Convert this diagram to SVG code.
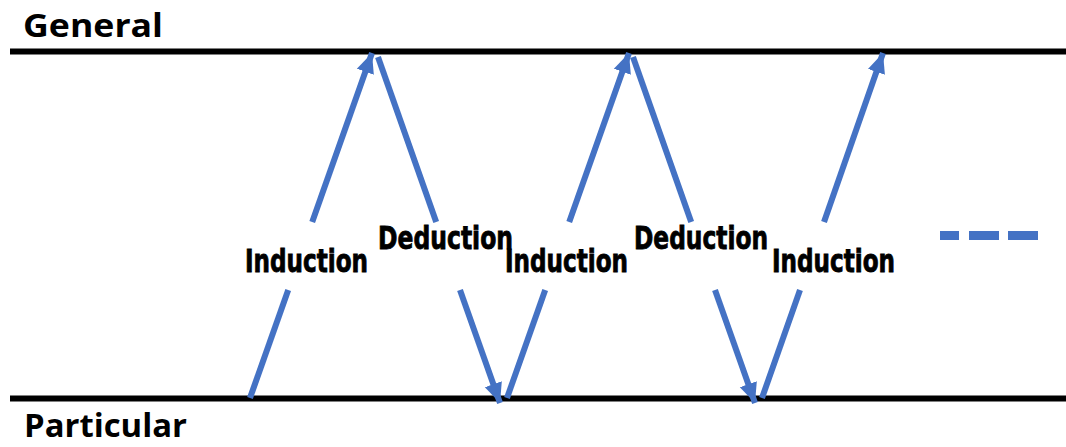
<svg xmlns="http://www.w3.org/2000/svg" width="1066" height="447" viewBox="0 0 1066 447">
<style>
.axis{stroke:#000;stroke-width:6;fill:none}
.arr{stroke:#4472C4;stroke-width:6;fill:none}
.lbl{font-family:"Liberation Sans Narrow","DejaVu Sans Condensed","Liberation Sans",sans-serif;font-weight:bold;font-size:32px;fill:#000;stroke:#000;stroke-width:0.8}
.ttl{font-family:"Open Sans","Noto Sans","Liberation Sans",sans-serif;font-weight:bold;font-size:33px;fill:#000}
.dash{fill:#4472C4}
</style>
<defs>
<marker id="ah" markerUnits="userSpaceOnUse" markerWidth="22" markerHeight="22" viewBox="0 0 22 22" refX="20" refY="11" orient="auto">
<path d="M0,2 L20,11 L0,20 Z" fill="#4472C4"/>
</marker>
</defs>
<g id="general">
<line class="axis" x1="10" y1="51.5" x2="1066" y2="51.5"/>
<text class="ttl" x="23" y="37" textLength="140" lengthAdjust="spacingAndGlyphs">General</text>
</g>
<g id="particular">
<line class="axis" x1="10" y1="398.5" x2="1066" y2="398.5"/>
<text class="ttl" x="24" y="437" font-size="31" textLength="163" lengthAdjust="spacingAndGlyphs">Particular</text>
</g>
<g id="connectors">
<line class="arr" x1="250" y1="398" x2="288.2" y2="290"/>
<line class="arr" x1="312.2" y1="222" x2="372" y2="53" marker-end="url(#ah)"/>
<line class="arr" x1="378" y1="57" x2="436.2" y2="222"/>
<line class="arr" x1="460" y1="290" x2="500" y2="403" marker-end="url(#ah)"/>
<line class="arr" x1="507" y1="398" x2="545.2" y2="290"/>
<line class="arr" x1="569.2" y1="222" x2="629" y2="53" marker-end="url(#ah)"/>
<line class="arr" x1="633" y1="57" x2="691.2" y2="222"/>
<line class="arr" x1="715" y1="290" x2="755" y2="403" marker-end="url(#ah)"/>
<line class="arr" x1="762" y1="398" x2="800" y2="290"/>
<line class="arr" x1="824" y1="222" x2="883" y2="53" marker-end="url(#ah)"/>
</g>
<g id="induction1"><text class="lbl" x="245" y="272" textLength="123" lengthAdjust="spacingAndGlyphs">Induction</text></g>
<g id="deduction1"><text class="lbl" x="378" y="249" textLength="135" lengthAdjust="spacingAndGlyphs">Deduction</text></g>
<g id="induction2"><text class="lbl" x="505" y="272" textLength="123" lengthAdjust="spacingAndGlyphs">Induction</text></g>
<g id="deduction2"><text class="lbl" x="634" y="249" textLength="134" lengthAdjust="spacingAndGlyphs">Deduction</text></g>
<g id="induction3"><text class="lbl" x="772" y="272" textLength="123" lengthAdjust="spacingAndGlyphs">Induction</text></g>
<g id="ellipsis">
<rect class="dash" x="940" y="231" width="19" height="9"/>
<rect class="dash" x="969" y="231" width="30" height="9"/>
<rect class="dash" x="1008" y="231" width="30" height="9"/>
</g>
</svg>
